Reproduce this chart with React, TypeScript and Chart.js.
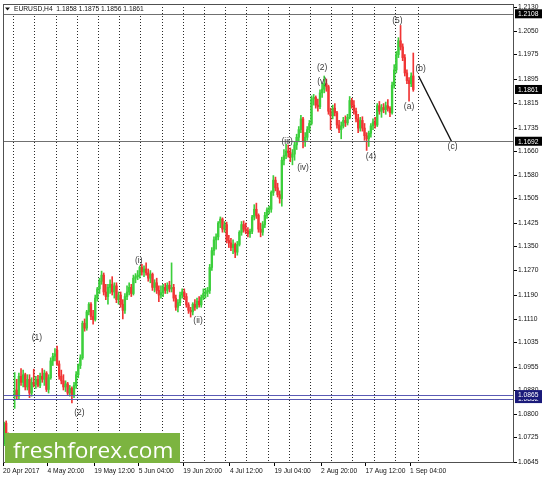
import React, { useEffect, useRef } from 'react';
import { Chart, registerables } from 'chart.js';

Chart.register(...registerables);

// ---- candle data (12h candles, EURUSD) ----
const opens = [
  1.0705, 1.0772, 1.0735, 1.0700, 1.0725,
  1.0860, 1.0880, 1.0860, 1.0925, 1.0905, 1.0930, 1.0890, 1.0915, 1.0870, 1.0905,
  1.0898, 1.0915, 1.0895, 1.0925, 1.0915, 1.0935, 1.0882, 1.0920, 1.0975, 1.0990,
  1.1010, 1.0965, 1.0925, 1.0910, 1.0890, 1.0900, 1.0870, 1.0885, 1.0862, 1.0895,
  1.0930, 1.0960, 1.0985, 1.1098, 1.1082, 1.1135, 1.1160, 1.1120, 1.1110, 1.1180,
  1.1210, 1.1235, 1.1255, 1.1200, 1.1185, 1.1215, 1.1225, 1.1200, 1.1220, 1.1175,
  1.1190, 1.1160, 1.1140, 1.1185, 1.1200, 1.1215, 1.1195, 1.1245, 1.1250, 1.1255,
  1.1280, 1.1265, 1.1275, 1.1262, 1.1245, 1.1258, 1.1215, 1.1230, 1.1205, 1.1190,
  1.1198, 1.1215, 1.1205, 1.1222, 1.1210, 1.1215, 1.1180, 1.1150, 1.1165, 1.1190,
  1.1200, 1.1185, 1.1158, 1.1140, 1.1135, 1.1160, 1.1150, 1.1170, 1.1158, 1.1182,
  1.1195, 1.1200, 1.1205, 1.1280, 1.1335, 1.1370, 1.1380, 1.1425, 1.1438, 1.1405,
  1.1420, 1.1368, 1.1360, 1.1345, 1.1355, 1.1330, 1.1355, 1.1395, 1.1420, 1.1405,
  1.1400, 1.1390, 1.1398, 1.1445, 1.1470, 1.1450, 1.1405, 1.1395, 1.1420, 1.1450,
  1.1468, 1.1470, 1.1525, 1.1565, 1.1540, 1.1518, 1.1505, 1.1630, 1.1645, 1.1660,
  1.1655, 1.1640, 1.1650, 1.1680, 1.1705, 1.1730, 1.1765, 1.1690, 1.1705, 1.1730,
  1.1750, 1.1830, 1.1835, 1.1810, 1.1805, 1.1850, 1.1862, 1.1880, 1.1870, 1.1790,
  1.1775, 1.1800, 1.1785, 1.1745, 1.1730, 1.1742, 1.1760, 1.1752, 1.1770, 1.1825,
  1.1810, 1.1790, 1.1765, 1.1735, 1.1760, 1.1735, 1.1710, 1.1700, 1.1718, 1.1742,
  1.1755, 1.1745, 1.1808, 1.1790, 1.1802, 1.1795, 1.1808, 1.1800, 1.1785, 1.1875,
  1.1925, 1.1975, 1.2020, 1.2000, 1.1965, 1.1915, 1.1890, 1.1880, 1.1905,
];
const highs = [
  1.0775, 1.0779, 1.0740, 1.0735, 1.0735,
  1.0937, 1.0915, 1.0935, 1.0950, 1.0945, 1.0935, 1.0930, 1.0930, 1.0920, 1.0948,
  1.0925, 1.0928, 1.0935, 1.0950, 1.0945, 1.0940, 1.0930, 1.0985, 1.1000, 1.1015,
  1.1023, 1.0975, 1.0945, 1.0930, 1.0910, 1.0905, 1.0895, 1.0890, 1.0905, 1.0940,
  1.0965, 1.0995, 1.1105, 1.1112, 1.1140, 1.1165, 1.1165, 1.1140, 1.1190, 1.1215,
  1.1245, 1.1268, 1.1262, 1.1225, 1.1225, 1.1240, 1.1250, 1.1230, 1.1230, 1.1200,
  1.1200, 1.1175, 1.1195, 1.1220, 1.1230, 1.1225, 1.1255, 1.1260, 1.1270, 1.1285,
  1.1290, 1.1285, 1.1295, 1.1275, 1.1270, 1.1262, 1.1240, 1.1245, 1.1220, 1.1220,
  1.1225, 1.1228, 1.1230, 1.1235, 1.1295, 1.1225, 1.1190, 1.1175, 1.1200, 1.1210,
  1.1210, 1.1195, 1.1165, 1.1150, 1.1165, 1.1175, 1.1180, 1.1185, 1.1190, 1.1210,
  1.1212, 1.1215, 1.1290, 1.1345, 1.1380, 1.1390, 1.1430, 1.1445, 1.1442, 1.1430,
  1.1428, 1.1385, 1.1375, 1.1370, 1.1360, 1.1365, 1.1400, 1.1430, 1.1432, 1.1425,
  1.1410, 1.1405, 1.1450, 1.1485, 1.1490, 1.1455, 1.1425, 1.1430, 1.1460, 1.1475,
  1.1480, 1.1530, 1.1580, 1.1575, 1.1555, 1.1530, 1.1640, 1.1665, 1.1682, 1.1680,
  1.1670, 1.1665, 1.1690, 1.1715, 1.1740, 1.1777, 1.1770, 1.1720, 1.1740, 1.1760,
  1.1840, 1.1845, 1.1840, 1.1830, 1.1860, 1.1880, 1.1905, 1.1895, 1.1875, 1.1800,
  1.1810, 1.1815, 1.1790, 1.1760, 1.1755, 1.1770, 1.1775, 1.1780, 1.1838, 1.1832,
  1.1825, 1.1800, 1.1780, 1.1770, 1.1772, 1.1750, 1.1720, 1.1725, 1.1750, 1.1765,
  1.1770, 1.1815, 1.1822, 1.1812, 1.1815, 1.1820, 1.1828, 1.1805, 1.1885, 1.1942,
  1.1985, 1.2030, 1.2070, 1.2010, 1.1975, 1.1925, 1.1900, 1.1915, 1.1980,
];
const lows = [
  1.0698, 1.0728, 1.0685, 1.0690, 1.0710,
  1.0820, 1.0850, 1.0850, 1.0895, 1.0890, 1.0880, 1.0880, 1.0855, 1.0860, 1.0890,
  1.0885, 1.0890, 1.0888, 1.0905, 1.0895, 1.0875, 1.0870, 1.0915, 1.0960, 1.0975,
  1.0960, 1.0915, 1.0900, 1.0880, 1.0875, 1.0865, 1.0860, 1.0838, 1.0855, 1.0885,
  1.0920, 1.0950, 1.0980, 1.1072, 1.1075, 1.1125, 1.1110, 1.1095, 1.1105, 1.1170,
  1.1195, 1.1225, 1.1190, 1.1175, 1.1160, 1.1195, 1.1190, 1.1180, 1.1165, 1.1160,
  1.1150, 1.1112, 1.1130, 1.1175, 1.1190, 1.1185, 1.1190, 1.1230, 1.1240, 1.1245,
  1.1255, 1.1250, 1.1255, 1.1235, 1.1230, 1.1205, 1.1200, 1.1195, 1.1168, 1.1180,
  1.1185, 1.1195, 1.1195, 1.1200, 1.1200, 1.1170, 1.1140, 1.1135, 1.1155, 1.1180,
  1.1175, 1.1150, 1.1130, 1.1118, 1.1125, 1.1140, 1.1145, 1.1150, 1.1150, 1.1175,
  1.1180, 1.1185, 1.1195, 1.1270, 1.1320, 1.1340, 1.1370, 1.1410, 1.1395, 1.1395,
  1.1360, 1.1345, 1.1335, 1.1325, 1.1312, 1.1320, 1.1350, 1.1385, 1.1395, 1.1390,
  1.1380, 1.1378, 1.1390, 1.1435, 1.1440, 1.1395, 1.1380, 1.1385, 1.1410, 1.1440,
  1.1455, 1.1460, 1.1515, 1.1530, 1.1510, 1.1490, 1.1480, 1.1615, 1.1635, 1.1640,
  1.1625, 1.1615, 1.1630, 1.1665, 1.1690, 1.1720, 1.1670, 1.1675, 1.1695, 1.1720,
  1.1745, 1.1810, 1.1800, 1.1790, 1.1798, 1.1835, 1.1850, 1.1855, 1.1780, 1.1730,
  1.1765, 1.1775, 1.1735, 1.1720, 1.1700, 1.1735, 1.1740, 1.1745, 1.1765, 1.1800,
  1.1780, 1.1755, 1.1720, 1.1725, 1.1725, 1.1695, 1.1662, 1.1675, 1.1705, 1.1730,
  1.1735, 1.1740, 1.1780, 1.1770, 1.1785, 1.1780, 1.1790, 1.1772, 1.1780, 1.1865,
  1.1915, 1.1965, 1.1990, 1.1955, 1.1905, 1.1880, 1.1823, 1.1870, 1.1855,
];
const closes = [
  1.0770, 1.0735, 1.0700, 1.0725, 1.0722,
  1.0880, 1.0860, 1.0925, 1.0905, 1.0930, 1.0890, 1.0915, 1.0870, 1.0905, 1.0898,
  1.0915, 1.0895, 1.0925, 1.0915, 1.0935, 1.0882, 1.0920, 1.0975, 1.0990, 1.0998,
  1.0965, 1.0925, 1.0910, 1.0890, 1.0900, 1.0870, 1.0885, 1.0862, 1.0895, 1.0930,
  1.0960, 1.0985, 1.1098, 1.1082, 1.1135, 1.1160, 1.1120, 1.1110, 1.1180, 1.1210,
  1.1235, 1.1255, 1.1200, 1.1185, 1.1215, 1.1225, 1.1200, 1.1220, 1.1175, 1.1190,
  1.1160, 1.1140, 1.1185, 1.1200, 1.1215, 1.1195, 1.1245, 1.1250, 1.1255, 1.1280,
  1.1265, 1.1275, 1.1262, 1.1245, 1.1258, 1.1215, 1.1230, 1.1205, 1.1190, 1.1198,
  1.1215, 1.1205, 1.1222, 1.1210, 1.1215, 1.1180, 1.1150, 1.1165, 1.1190, 1.1200,
  1.1185, 1.1158, 1.1140, 1.1135, 1.1160, 1.1150, 1.1170, 1.1158, 1.1182, 1.1195,
  1.1200, 1.1205, 1.1280, 1.1335, 1.1370, 1.1380, 1.1425, 1.1438, 1.1405, 1.1420,
  1.1368, 1.1360, 1.1345, 1.1355, 1.1330, 1.1355, 1.1395, 1.1420, 1.1405, 1.1400,
  1.1390, 1.1398, 1.1445, 1.1470, 1.1450, 1.1405, 1.1395, 1.1420, 1.1450, 1.1468,
  1.1470, 1.1525, 1.1565, 1.1540, 1.1518, 1.1505, 1.1630, 1.1645, 1.1660, 1.1655,
  1.1640, 1.1650, 1.1680, 1.1705, 1.1730, 1.1765, 1.1690, 1.1705, 1.1730, 1.1750,
  1.1830, 1.1835, 1.1810, 1.1805, 1.1850, 1.1862, 1.1880, 1.1870, 1.1790, 1.1775,
  1.1800, 1.1785, 1.1745, 1.1730, 1.1742, 1.1760, 1.1752, 1.1770, 1.1825, 1.1810,
  1.1790, 1.1765, 1.1735, 1.1760, 1.1735, 1.1710, 1.1700, 1.1718, 1.1742, 1.1755,
  1.1745, 1.1808, 1.1790, 1.1802, 1.1795, 1.1808, 1.1800, 1.1785, 1.1875, 1.1925,
  1.1975, 1.2020, 1.2000, 1.1965, 1.1915, 1.1890, 1.1880, 1.1905, 1.1861,
];

// ---- axis data ----
const SLOT_COUNT = 241; // visible candle slots incl. empty right margin
const weekStartIdx = [5, 15, 25, 35, 45, 55, 65, 75, 85, 95, 105, 115, 125, 135, 145, 155, 165, 175, 185, 196];
const dateLabelIdx = [0, 21, 43, 64, 85, 107, 128, 150, 171, 192];
const dateLabels = ['20 Apr 2017', '4 May 20:00', '19 May 12:00', '5 Jun 04:00', '19 Jun 20:00', '4 Jul 12:00', '19 Jul 04:00', '2 Aug 20:00', '17 Aug 12:00', '1 Sep 04:00'];
const priceTicks = [1.2130, 1.2050, 1.1975, 1.1895, 1.1815, 1.1735, 1.1660, 1.1580, 1.1505, 1.1425, 1.1350, 1.1270, 1.1190, 1.1110, 1.1035, 1.0955, 1.0880, 1.0800, 1.0725, 1.0645];
const priceMin = 1.0645;
const priceMax = 1.2140;

// ---- annotations ----
const resistanceLevels = [1.2108, 1.1692];
const supportLevels = [1.0865, 1.0852];
const lastPrice = 1.1861;
const headerText = 'EURUSD,H4  1.1858 1.1875 1.1856 1.1861';
const waveText = ['(1)', '(2)', '(i)', '(ii)', '(iii)', '(iv)', '(2)', '(v)', '(4)', '(5)', '(a)', '(b)', '(c)'];
const waveIdx = [15.5, 35.5, 63.5, 91.5, 133.5, 141, 150, 150, 173, 185.5, 191, 196.5, 211.5];
const wavePrice = [1.1050, 1.0806, 1.1301, 1.1105, 1.1690, 1.1605, 1.1931, 1.1888, 1.1642, 1.2085, 1.1804, 1.1928, 1.1673];
const projectionIdx = [195.5, 211];
const projectionPrice = [1.1905, 1.1692];

const UP = '#3ccf3c';
const DOWN = '#f03434';
const FONT = '"Liberation Sans", Arial, sans-serif';

export default function App() {
  const ref = useRef<HTMLCanvasElement>(null);

  useEffect(() => {
    const canvas = ref.current;
    if (!canvas) return;

    const xInfo = new Map<number, { sep: boolean; label: string }>();
    weekStartIdx.forEach((i) => xInfo.set(i - 0.5, { sep: true, label: '' }));
    dateLabelIdx.forEach((i, k) => {
      const v = i - 0.5;
      const e = xInfo.get(v) || { sep: false, label: '' };
      e.label = dateLabels[k];
      xInfo.set(v, e);
    });
    const xTickValues = Array.from(xInfo.keys()).sort((a, b) => a - b);

    const colors = closes.map((c, i) => (c >= opens[i] ? UP : DOWN));

    const decor = {
      id: 'mt4decor',
      afterDatasetsDraw(chart: any) {
        const { ctx, chartArea: a, scales } = chart;
        const xs = scales.x;
        const ys = scales.y;
        ctx.save();
        ctx.beginPath();
        ctx.rect(a.left, a.top, a.right - a.left, a.bottom - a.top);
        ctx.clip();
        // horizontal levels
        ctx.lineWidth = 1;
        resistanceLevels.forEach((p) => {
          const y = Math.round(ys.getPixelForValue(p)) + 0.5;
          ctx.strokeStyle = '#707070';
          ctx.beginPath();
          ctx.moveTo(a.left, y);
          ctx.lineTo(a.right, y);
          ctx.stroke();
        });
        supportLevels.forEach((p) => {
          const y = Math.round(ys.getPixelForValue(p)) + 0.5;
          ctx.strokeStyle = '#5a5ab4';
          ctx.beginPath();
          ctx.moveTo(a.left, y);
          ctx.lineTo(a.right, y);
          ctx.stroke();
        });
        // wave labels
        ctx.font = `8.5px ${FONT}`;
        ctx.fillStyle = '#3a3a3a';
        ctx.textAlign = 'center';
        ctx.textBaseline = 'middle';
        waveText.forEach((t, i) => {
          ctx.fillText(t, xs.getPixelForValue(waveIdx[i]), ys.getPixelForValue(wavePrice[i]));
        });
        ctx.restore();

        // frame
        ctx.save();
        ctx.strokeStyle = '#505050';
        ctx.lineWidth = 1;
        ctx.strokeRect(a.left + 0.5, a.top + 0.5, a.right - a.left - 1, a.bottom - a.top);

        // header
        ctx.font = `6.7px ${FONT}`;
        const hw = ctx.measureText(headerText).width;
        ctx.fillStyle = '#ffffff';
        ctx.fillRect(a.left + 9, a.top + 1, hw + 4, 9);
        ctx.fillStyle = '#111';
        ctx.textAlign = 'left';
        ctx.textBaseline = 'middle';
        ctx.fillText(headerText, a.left + 11, a.top + 5.5);
        ctx.beginPath();
        ctx.moveTo(a.left + 2, a.top + 3.5);
        ctx.lineTo(a.left + 7, a.top + 3.5);
        ctx.lineTo(a.left + 4.5, a.top + 6.5);
        ctx.closePath();
        ctx.fill();

        // logo
        ctx.fillStyle = '#7cb440';
        ctx.fillRect(a.left + 2, a.bottom - 29, 175, 30);
        ctx.fillStyle = '#ffffff';
        ctx.font = `22.6px "Open Sans", ${FONT}`;
        ctx.textAlign = 'left';
        ctx.textBaseline = 'alphabetic';
        ctx.fillText('freshforex.com', a.left + 10, a.bottom - 4);

        // price boxes on the right axis
        const boxes: [number, string][] = [
          [resistanceLevels[0], '#000000'],
          [lastPrice, '#000000'],
          [resistanceLevels[1], '#000000'],
          [supportLevels[1], '#1a1a7a'],
          [supportLevels[0], '#1a1a7a'],
        ];
        ctx.font = `6.7px ${FONT}`;
        ctx.textBaseline = 'middle';
        boxes.forEach(([p, bg]) => {
          const y = ys.getPixelForValue(p);
          ctx.fillStyle = bg;
          ctx.fillRect(a.right + 1, y - 4.5, 27, 9);
          ctx.fillStyle = '#ffffff';
          ctx.fillText(p.toFixed(4), a.right + 4, y + 0.5);
        });
        ctx.restore();
      },
    };

    const chart = new Chart(canvas, {
      type: 'bar',
      data: {
        datasets: [
          {
            type: 'line',
            data: projectionIdx.map((x, i) => ({ x, y: projectionPrice[i] })),
            borderColor: '#111111',
            borderWidth: 1.4,
            pointRadius: 0,
            order: 0,
          } as any,
          {
            type: 'bar',
            data: highs.map((h, i) => ({ x: i, y: [lows[i], h] })),
            backgroundColor: colors,
            barThickness: 1,
            grouped: false,
            order: 2,
          } as any,
          {
            type: 'bar',
            data: opens.map((o, i) => ({ x: i, y: [Math.min(o, closes[i]), Math.max(o, closes[i])] })),
            backgroundColor: colors,
            barThickness: 1.7,
            grouped: false,
            order: 1,
          } as any,
        ],
      },
      options: {
        responsive: false,
        animation: false,
        events: [],
        devicePixelRatio: 1,
        layout: { padding: { left: 3, top: 4, right: 0, bottom: 0 } },
        plugins: { legend: { display: false }, tooltip: { enabled: false }, title: { display: false } },
        scales: {
          x: {
            type: 'linear',
            min: -0.5,
            max: SLOT_COUNT - 0.5,
            offset: false,
            grid: {
              offset: false,
              color: (c: any) => (xInfo.get(c.tick?.value)?.sep ? '#2a2a2a' : 'rgba(0,0,0,0)'),
              lineWidth: 1,
              drawTicks: true,
              tickLength: 4,
              tickColor: (c: any) => (xInfo.get(c.tick?.value)?.label ? '#000' : 'rgba(0,0,0,0)'),
            },
            border: { display: false, dash: [1, 2] },
            ticks: {
              autoSkip: false,
              maxRotation: 0,
              minRotation: 0,
              align: 'start',
              padding: 1,
              color: '#111',
              font: { family: FONT, size: 6.7 },
              callback: (v: any) => xInfo.get(Number(v))?.label ?? '',
            },
            afterBuildTicks: (s: any) => {
              s.ticks = xTickValues.map((v) => ({ value: v }));
            },
            afterFit: (s: any) => {
              s.height = 18;
              s.paddingLeft = 0;
              s.paddingRight = 0;
            },
          } as any,
          y: {
            type: 'linear',
            position: 'right',
            min: priceMin,
            max: priceMax,
            grid: { drawOnChartArea: false, drawTicks: true, tickLength: 3, tickColor: '#000', color: '#000' },
            border: { display: false },
            ticks: {
              autoSkip: false,
              padding: 1,
              color: '#111',
              font: { family: FONT, size: 6.7 },
              callback: (v: any) => Number(v).toFixed(4),
            },
            afterBuildTicks: (s: any) => {
              s.ticks = priceTicks.map((v) => ({ value: v }));
            },
            afterFit: (s: any) => {
              s.width = 28;
              s.paddingTop = 0;
              s.paddingBottom = 0;
            },
          } as any,
        },
      } as any,
      plugins: [decor],
    });

    return () => chart.destroy();
  }, []);

  return (
    <div style={{ position: 'absolute', left: 0, top: 0, width: 542, height: 480, background: '#ffffff' }}>
      <canvas ref={ref} width={542} height={480} style={{ display: 'block', width: 542, height: 480 }} />
    </div>
  );
}
